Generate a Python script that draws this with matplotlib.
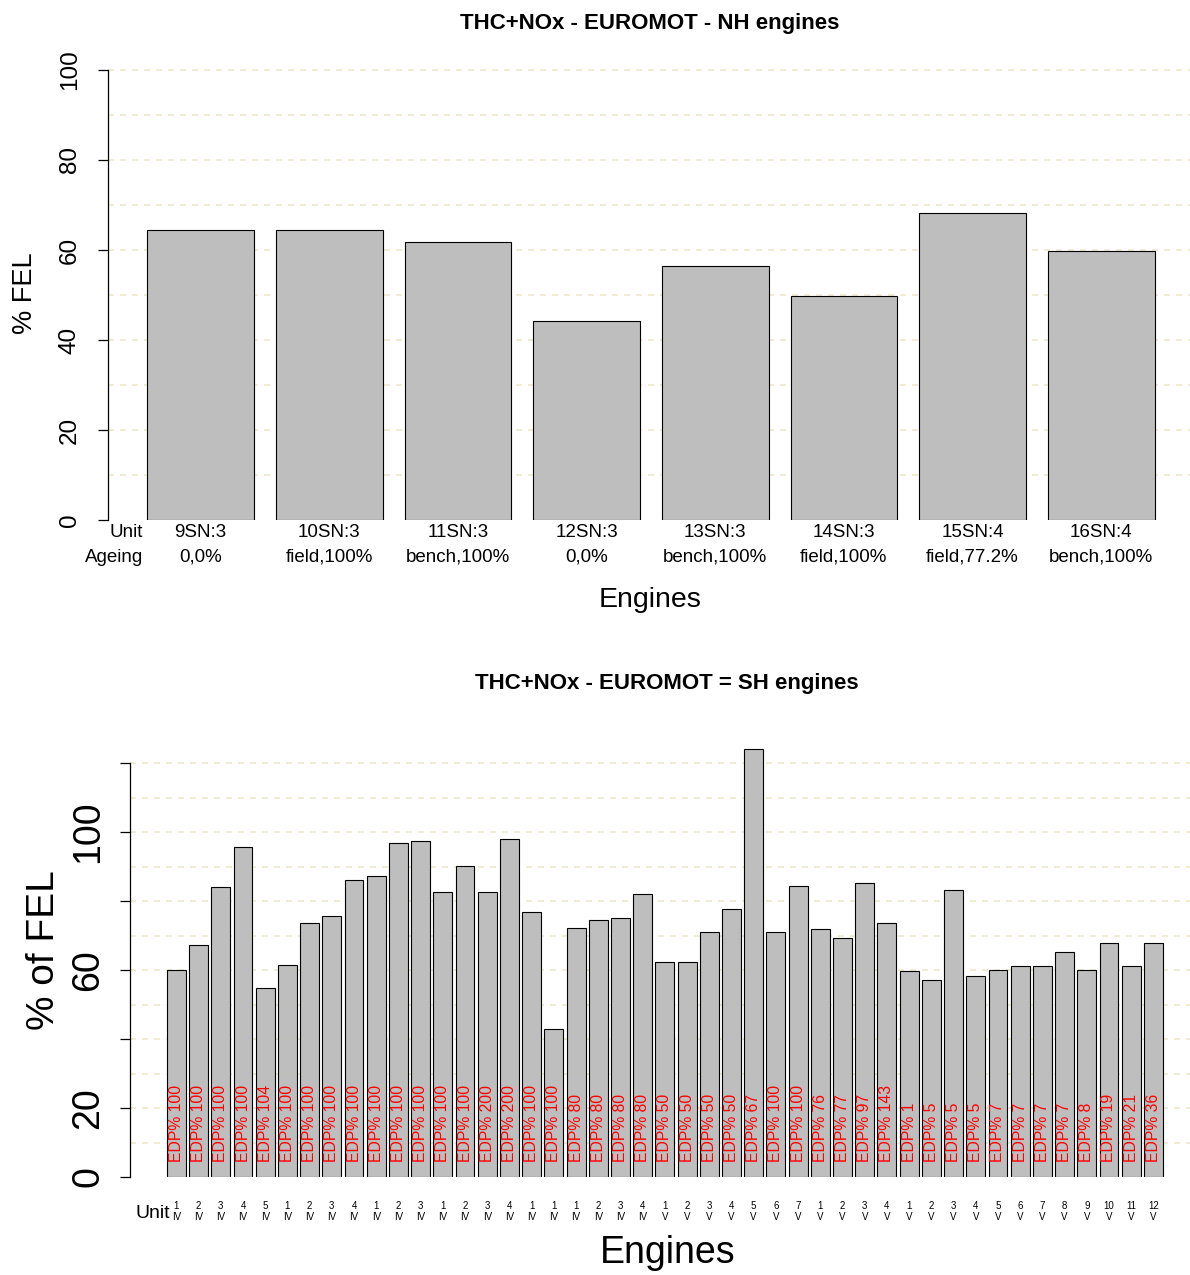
import matplotlib
matplotlib.use("Agg")
import matplotlib.pyplot as plt
import matplotlib.transforms as mtransforms

plt.rcParams['font.family'] = ['Liberation Sans', 'DejaVu Sans']

# ---- NH engines (top panel) ----
nh_units = ['9SN:3', '10SN:3', '11SN:3', '12SN:3', '13SN:3', '14SN:3', '15SN:4', '16SN:4']
nh_ageing = ['0,0%', 'field,100%', 'bench,100%', '0,0%', 'bench,100%', 'field,100%',
             'field,77.2%', 'bench,100%']
nh_values = [64.4, 64.4, 61.8, 44.2, 56.4, 49.8, 68.2, 59.8]
nh_yticks = [0, 20, 40, 60, 80, 100]

# ---- SH engines (bottom panel) ----
sh_units = [1, 2, 3, 4, 5, 1, 2, 3, 4, 1, 2, 3, 1, 2, 3, 4, 1, 1, 1, 2, 3, 4,
            1, 2, 3, 4, 5, 6, 7, 1, 2, 3, 4, 1, 2, 3, 4, 5, 6, 7, 8, 9, 10, 11, 12]
sh_stage = ['IV'] * 22 + ['V'] * 23
sh_values = [60.1, 67.2, 84.0, 95.7, 54.9, 61.5, 73.5, 75.6, 86.0, 87.4,
             96.9, 97.3, 82.6, 90.2, 82.6, 98.0, 76.9, 43.0, 72.1, 74.5,
             75.2, 82.1, 62.2, 62.2, 70.9, 77.6, 124.1, 70.9, 84.3, 72.0,
             69.2, 85.3, 73.7, 59.8, 57.0, 83.3, 58.3, 60.0, 61.2, 61.2,
             65.1, 60.0, 67.9, 61.2, 67.9]
sh_edp = [100, 100, 100, 100, 104, 100, 100, 100, 100, 100, 100, 100, 100, 100,
          200, 200, 100, 100, 80, 80, 80, 80,
          50, 50, 50, 50, 67, 100, 100, 76, 77, 97, 143, 1, 5, 5, 5, 7, 7, 7, 7,
          8, 19, 21, 36]
sh_yticks = [0, 20, 40, 60, 80, 100, 120]
sh_yticklabels = ['0', '20', '', '60', '', '100', '']

W, H = 1190, 1275
fig = plt.figure(figsize=(W / 100, H / 100), dpi=100)

BAR_FILL = '#BEBEBE'
GRID_COL = '#EEE8CD'


def fx(px):
    return px / W


def fy(py):
    return 1 - py / H


def style_axes(ax, ymax_tick, grid_top):
    for s in ['top', 'right', 'bottom']:
        ax.spines[s].set_visible(False)
    ax.spines['left'].set_bounds(0, ymax_tick)
    ax.spines['left'].set_linewidth(0.9)
    ax.tick_params(axis='x', bottom=False, labelbottom=False)
    ax.tick_params(axis='y', length=7, width=0.9, labelleft=False)
    for g in range(10, grid_top + 1, 10):
        ax.axhline(g, color=GRID_COL, lw=1.2, dashes=(3.6, 3.6), zorder=0)


# ---------------- top panel ----------------
ax1 = fig.add_axes([fx(108), fy(520), fx(1190 - 108), (520 - 60) / H])
x1 = list(range(len(nh_values)))
ax1.bar(x1, nh_values, width=0.83, color=BAR_FILL, edgecolor='black',
        linewidth=0.8, zorder=2)
ax1.set_xlim(-0.72, 7.69)
ax1.set_ylim(0, 102.2)
ax1.set_yticks(nh_yticks)
style_axes(ax1, 100, 100)
ytr1 = mtransforms.blended_transform_factory(fig.transFigure, ax1.transData)
for t in nh_yticks:
    ax1.text(fx(70), t, str(t), transform=ytr1, rotation=90, ha='center',
             va='center', fontsize=17.5)
fig.text(fx(25), fy(293), '% FEL', rotation=90, ha='center', va='center',
         fontsize=19.5)
xtr1 = mtransforms.blended_transform_factory(ax1.transData, fig.transFigure)
ax1.text(-0.45, fy(533), 'Unit', transform=xtr1, ha='right', va='center',
         fontsize=13.5)
ax1.text(-0.45, fy(557), 'Ageing', transform=xtr1, ha='right', va='center',
         fontsize=13.5)
for i, (u, a) in enumerate(zip(nh_units, nh_ageing)):
    ax1.text(i, fy(533), u, transform=xtr1, ha='center', va='center', fontsize=13.5)
    ax1.text(i, fy(557), a, transform=xtr1, ha='center', va='center', fontsize=13.5)
fig.text(fx(650), fy(600), 'Engines', ha='center', va='center', fontsize=20.5)
fig.text(fx(650), fy(24), 'THC+NOx - EUROMOT - NH engines', ha='center',
         va='center', fontsize=16, fontweight='bold')

# ---------------- bottom panel ----------------
ax2 = fig.add_axes([fx(130), fy(1177), fx(1190 - 130), (1177 - 740) / H])
x2 = list(range(len(sh_values)))
ax2.bar(x2, sh_values, width=0.85, color=BAR_FILL, edgecolor='black',
        linewidth=0.8, zorder=2)
ax2.set_xlim(-2.09, 45.65)
ax2.set_ylim(0, 126.7)
ax2.set_yticks(sh_yticks)
style_axes(ax2, 120, 120)
ytr2 = mtransforms.blended_transform_factory(fig.transFigure, ax2.transData)
for t, lab in zip(sh_yticks, sh_yticklabels):
    if lab:
        ax2.text(fx(88), t, lab, transform=ytr2, rotation=90, ha='center',
                 va='center', fontsize=27)
fig.text(fx(44), fy(950), '% of FEL', rotation=90, ha='center', va='center',
         fontsize=28)

for i, e in enumerate(sh_edp):
    ax2.text(i, 4.3, f'EDP% {e}', rotation=90, ha='center', va='bottom',
             color='#FF0000', fontsize=11.3, zorder=3)

xtr2 = mtransforms.blended_transform_factory(ax2.transData, fig.transFigure)
for i, (u, s) in enumerate(zip(sh_units, sh_stage)):
    ax2.text(i, fy(1206), str(u), transform=xtr2, ha='center', va='center',
             fontsize=7)
    ax2.text(i, fy(1217), s, transform=xtr2, ha='center', va='center',
             fontsize=7)
fig.text(fx(153), fy(1213), 'Unit', ha='center', va='center', fontsize=14)
fig.text(fx(668), fy(1253), 'Engines', ha='center', va='center', fontsize=27)
fig.text(fx(667), fy(684), 'THC+NOx - EUROMOT = SH engines', ha='center',
         va='center', fontsize=16, fontweight='bold')

fig.savefig('out.png', dpi=100, facecolor='white')
